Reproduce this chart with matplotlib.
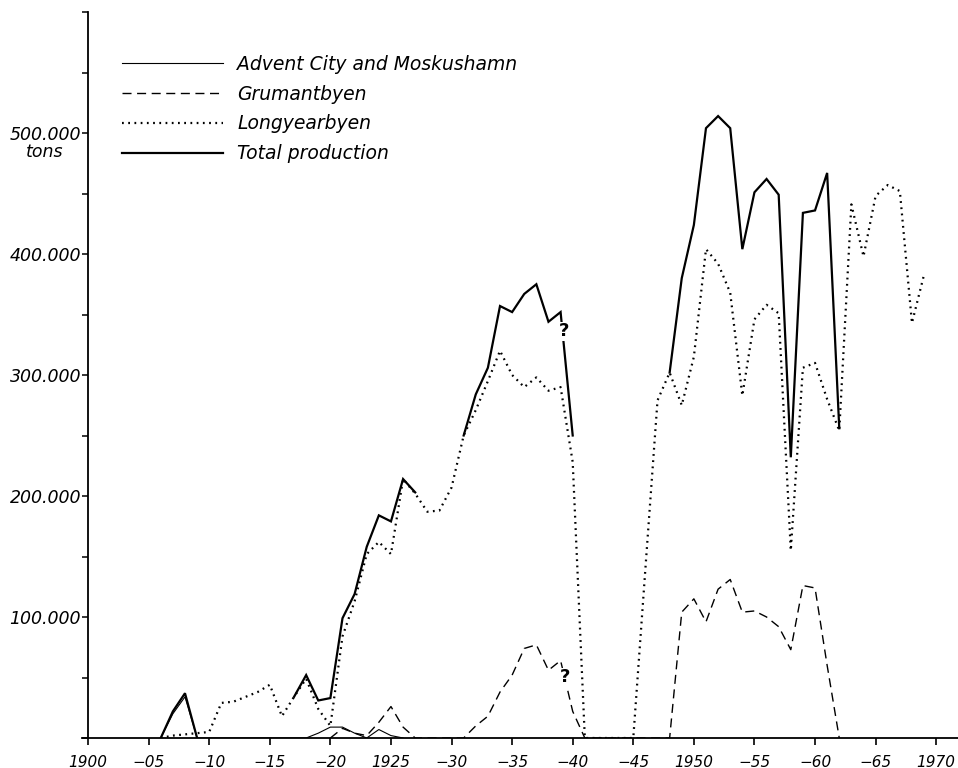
import matplotlib
matplotlib.use("Agg")
import matplotlib.pyplot as plt
import numpy as np
from matplotlib.ticker import MultipleLocator, FuncFormatter, FixedLocator

# ---------------- data (thousand tons) ----------------
longyear_years = list(range(1906, 1970))
longyear_vals = [0, 2, 3, 4, 5, 29, 30, 34, 38, 44,           # 1906-1915
                 18, 34, 49, 24, 10, 84, 113, 152, 162, 152,  # 1916-1925
                 214, 202, 187, 188, 207, 250, 271, 295, 320, 300,  # 1926-1935
                 290, 298, 287, 290, 228, 0, 0, 0, 0, 0,      # 1936-1945
                 140, 279, 302, 275, 315, 404, 392, 368, 283, 346,  # 1946-1955
                 358, 351, 155, 306, 310, 280, 254, 441, 398, 448,  # 1956-1965
                 457, 452, 343, 383]                           # 1966-1969

advent_years = list(range(1906, 1927))
advent_vals = [0, 20, 34, 0, 0, 0, 0, 0, 0, 0,
               0, 0, 0, 4, 9, 9, 4, 0, 7, 2, 0]

grumant_years = list(range(1920, 1963))
grumant_vals = [0, 8, 4, 2, 13, 26, 9, 0, 0, 0,        # 1920-1929
                0, 0, 10, 18, 38, 52, 74, 77, 56, 64,  # 1930-1939
                22, 0, 0, 0, 0, 0, 0, 0, 0, 104,       # 1940-1949
                115, 96, 123, 131, 104, 105, 100, 92, 73, 126,  # 1950-1959
                124, 60, 0]                            # 1960-1962

total_years = list(range(1906, 1963))
total_vals = [0, 22, 37, 0, None, None, None, None, None, None,          # 1906-1915
              None, 34, 52, 31, 33, 99, 119, 158, 184, 179,              # 1916-1925
              214, 203, None, None, None, 250, 284, 306, 357, 352,       # 1926-1935
              367, 375, 344, 352, 250, None, None, None, None, None,     # 1936-1945
              None, None, 302, 380, 424, 504, 514, 504, 404, 451,        # 1946-1955
              462, 449, 232, 434, 436, 467, 256]                         # 1956-1962

legend_labels = ["Advent City and Moskushamn", "Grumantbyen",
                 "Longyearbyen", "Total production"]

xtick_years = list(range(1900, 1971, 5))
xtick_labels = ["1900", "\u221205", "\u221210", "\u221215", "\u221220", "1925",
                "\u221230", "\u221235", "\u221240", "\u221245", "1950",
                "\u221255", "\u221260", "\u221265", "1970"]
ytick_label_values = [100, 200, 300, 400, 500]

# question marks (uncertain values)
qmarks = [(1939.25, 336), (1939.4, 50)]

# ---------------- figure ----------------
fig = plt.figure(figsize=(9.58, 7.68), dpi=100)
ax = fig.add_axes([82 / 958, 30 / 768, 876 / 958, 726 / 768])

def k(v):
    return np.array([np.nan if x is None else x * 1000 for x in v], dtype=float)

l_adv, = ax.plot(advent_years, k(advent_vals), color="black", lw=0.8,
                 solid_joinstyle="miter")
l_gru, = ax.plot(grumant_years, k(grumant_vals), color="black", lw=1.0,
                 linestyle=(0, (6.5, 4)))
l_lon, = ax.plot(longyear_years, k(longyear_vals), color="black", lw=1.6,
                 linestyle=(0, (0.8, 2.0)))
l_tot, = ax.plot(total_years, k(total_vals), color="black", lw=1.6,
                 solid_joinstyle="miter")

for (qx, qy) in qmarks:
    ax.text(qx, qy * 1000, "?", fontsize=13, fontweight="bold",
            ha="center", va="center", color="black",
            bbox=dict(facecolor="white", edgecolor="none", pad=0.5))

ax.set_xlim(1899.5, 1971.8)
ax.set_ylim(0, 600000)

for s in ["top", "right"]:
    ax.spines[s].set_visible(False)
ax.spines["left"].set_position(("data", 1900))
ax.spines["left"].set_linewidth(1.3)
ax.spines["bottom"].set_linewidth(1.3)

ax.xaxis.set_major_locator(FixedLocator(xtick_years))
ax.set_xticklabels(xtick_labels, fontsize=11, fontstyle="italic")
ax.tick_params(axis="x", direction="out", length=5, width=1.2, pad=7)

ax.yaxis.set_major_locator(MultipleLocator(50000))
lab_set = set(v * 1000 for v in ytick_label_values)

def yfmt(v, pos):
    v = int(round(v))
    if v in lab_set:
        return "%d.000" % (v // 1000)
    return ""

ax.yaxis.set_major_formatter(FuncFormatter(yfmt))
ax.tick_params(axis="y", direction="out", length=4, width=1.1, pad=1,
               labelsize=12.5)
for t in ax.get_yticklabels():
    t.set_fontstyle("italic")

fig.text(45 / 958, 1 - 152 / 768, "tons", fontsize=12.5, fontstyle="italic",
         ha="center", va="center")

leg = ax.legend([l_adv, l_gru, l_lon, l_tot], legend_labels,
                loc="upper left", bbox_to_anchor=(122 / 958, 1 - 55 / 768),
                bbox_transform=fig.transFigure, frameon=False,
                handlelength=5.4, handletextpad=0.75, labelspacing=0.57,
                borderpad=0, borderaxespad=0,
                prop={"size": 13.5, "style": "italic"})

fig.savefig("out.png", dpi=100)
